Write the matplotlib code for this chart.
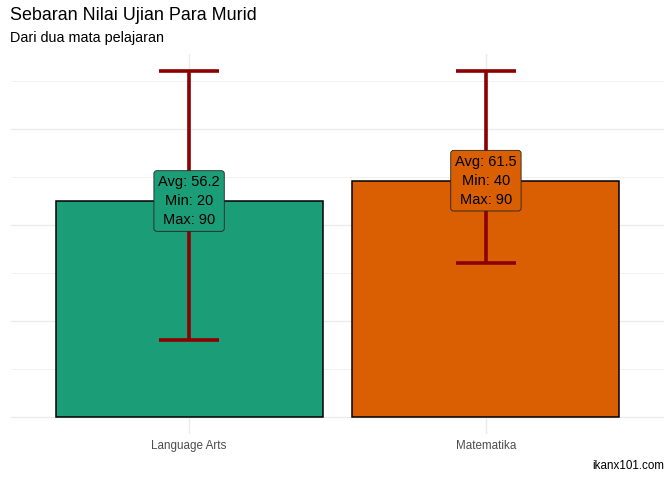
import matplotlib.pyplot as plt

plt.rcParams['font.family'] = ['Liberation Sans', 'DejaVu Sans']

mapel = ["Language Arts", "Matematika"]
rata = [56.2, 61.5]
nilai_min = [20, 40]
nilai_max = [90, 90]
warna = ["#1B9E77", "#D95F02"]

fig = plt.figure(figsize=(6.72, 4.8), dpi=100)
ax = fig.add_axes([11 / 672, 46 / 480, 653 / 672, 380 / 480])

x = list(range(1, len(mapel) + 1))
ax.bar(x, rata, width=0.9, color=warna, edgecolor="black", linewidth=1.1, zorder=2)

for xi, lo, hi in zip(x, nilai_min, nilai_max):
    ax.plot([xi, xi], [lo, hi], color="#8B0000", lw=2.6, zorder=3, solid_capstyle="butt")
    for y in (lo, hi):
        ax.plot([xi - 0.1, xi + 0.1], [y, y], color="#8B0000", lw=2.6, zorder=3, solid_capstyle="butt")

for xi, avg, lo, hi, c in zip(x, rata, nilai_min, nilai_max, warna):
    ax.text(xi, avg, f"Avg: {avg}\nMin: {lo}\nMax: {hi}", ha="center", va="center",
            fontsize=10.5, linespacing=1.45, zorder=4,
            bbox=dict(boxstyle="round,pad=0.3,rounding_size=0.2", fc=c, ec="#222222", lw=0.6))

ax.set_xlim(0.4, 2.6)
ax.set_ylim(-4.5, 94.5)
ax.set_yticks([0, 25, 50, 75])
ax.set_yticks([12.5, 37.5, 62.5, 87.5], minor=True)
ax.set_yticklabels([])
ax.set_xticks(x)
ax.set_xticklabels(mapel, fontsize=8.4, color="#4D4D4D")
ax.tick_params(axis="both", which="both", length=0, pad=4)
ax.grid(True, which="major", color="#EBEBEB", lw=1.0, zorder=0)
ax.grid(True, which="minor", axis="y", color="#EBEBEB", lw=0.5, zorder=0)
for s in ax.spines.values():
    s.set_visible(False)

fig.text(10 / 672, 1 - 15 / 480, "Sebaran Nilai Ujian Para Murid", fontsize=12.9, va="center", ha="left")
fig.text(10 / 672, 1 - 38 / 480, "Dari dua mata pelajaran", fontsize=10.4, va="center", ha="left")
fig.text(664 / 672, 1 - 466 / 480, "ikanx101.com", fontsize=8.4, va="center", ha="right")

fig.savefig("out.png", dpi=100)
